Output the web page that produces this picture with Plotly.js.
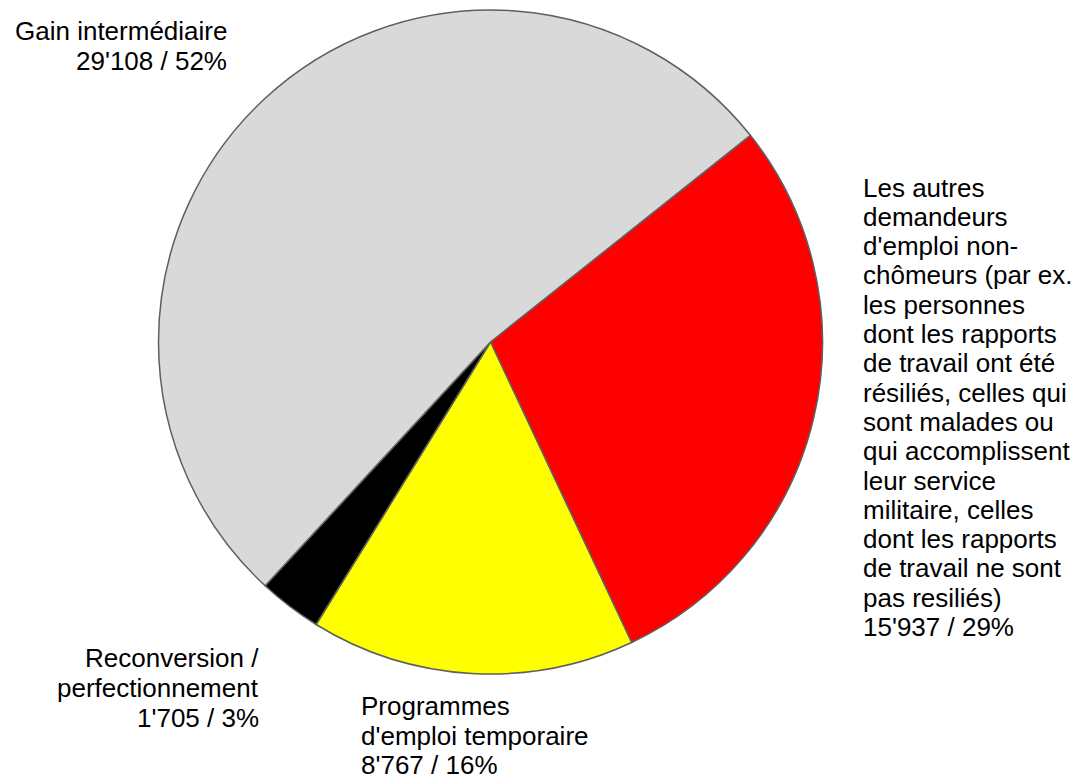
<!DOCTYPE html>
<html>
<head>
<meta charset="utf-8">
<script src="https://cdn.plot.ly/plotly-3.0.1.min.js"></script>
<style>html,body{margin:0;padding:0;background:#fff;}</style>
</head>
<body>
<div id="chart" style="width:1081px;height:780px;"></div>
<script>
// Data
const categories = [
  "Les autres demandeurs d'emploi non-chômeurs",
  "Programmes d'emploi temporaire",
  "Reconversion / perfectionnement",
  "Gain intermédiaire"
];
const values = [15937, 8767, 1705, 29108];
const sliceColors = ["#ff0000", "#ffff00", "#000000", "#d9d9d9"];

// Label lines (as printed on the chart)
const labelAutres = ["Les autres", "demandeurs", "d'emploi non-", "chômeurs (par ex.", "les personnes",
  "dont les rapports", "de travail ont été", "résiliés, celles qui", "sont malades ou",
  "qui accomplissent", "leur service", "militaire, celles", "dont les rapports",
  "de travail ne sont", "pas resiliés)", "15'937 / 29%"];
const labelProgrammes = ["Programmes", "d'emploi temporaire", "8'767 / 16%"];
const labelReconversion = ["Reconversion /", "perfectionnement", "1'705 / 3%"];
const labelGain = ["Gain intermédiaire", "29'108 / 52%"];

const W = 1081, H = 780;
const FS = 26;

function block(lines, xpx, firstCenter, lh, align) {
  return lines.map((t, i) => ({
    xref: 'paper', yref: 'paper',
    x: xpx / W,
    y: 1 - (firstCenter + i * lh) / H,
    xanchor: align, yanchor: 'middle',
    text: t, showarrow: false, align: align, borderpad: 0,
    font: {family: 'Liberation Sans, Arial, sans-serif', size: FS, color: '#000'}
  }));
}

const annotations = [].concat(
  block(labelGain, 228, 31.5, 30, 'right'),
  block(labelAutres, 862, 187.5, 29.3, 'left'),
  block(labelReconversion, 260, 658, 30, 'right'),
  block(labelProgrammes, 360, 706, 29.5, 'left')
);

const data = [{
  type: 'pie',
  labels: categories,
  values: values,
  sort: false,
  direction: 'clockwise',
  rotation: 51.5,
  textinfo: 'none',
  hoverinfo: 'label+value+percent',
  marker: {colors: sliceColors, line: {color: '#5f5f5f', width: 1.5}},
  domain: {x: [158 / W, 823 / W], y: [1 - 674 / H, 1 - 10 / H]},
  showlegend: false
}];

const layout = {
  width: W, height: H,
  margin: {l: 0, r: 0, t: 0, b: 0},
  paper_bgcolor: '#fff',
  showlegend: false,
  annotations: annotations
};

Plotly.newPlot('chart', data, layout, {displayModeBar: false, staticPlot: true});
</script>
</body>
</html>
